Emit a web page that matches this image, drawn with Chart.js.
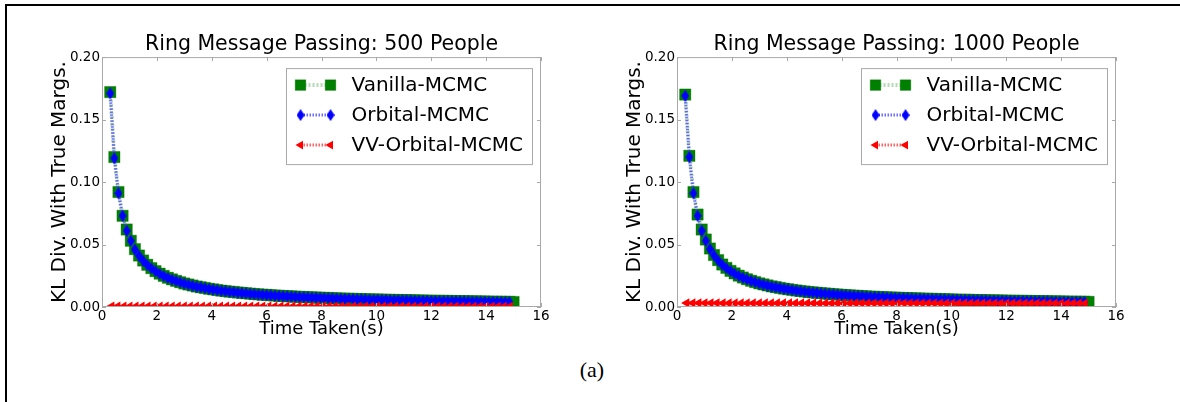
<!DOCTYPE html>
<html>
<head>
<meta charset="utf-8">
<script src="https://cdn.jsdelivr.net/npm/chart.js@4.4.1/dist/chart.umd.min.js"></script>
<style>
  html, body { margin: 0; padding: 0; background: #fff; }
  #page { position: relative; width: 1180px; height: 402px; overflow: hidden; }
  #frame { position: absolute; left: 5px; top: 4px; width: 1180px; height: 420px;
           border-top: 2px solid #000; border-left: 2px solid #000; }
  canvas { position: absolute; top: 20px; }
  #left { left: 20px; }
  #right { left: 595px; }
  #caption { position: absolute; left: 0; width: 1184px; top: 357px; text-align: center;
             font-family: "Liberation Serif", serif; font-size: 22px; color: #000; }
</style>
</head>
<body>
<div id="page">
  <div id="frame"></div>
  <canvas id="left" width="550" height="330"></canvas>
  <canvas id="right" width="550" height="330"></canvas>
  <div id="caption">(a)</div>
</div>
<script>
// time axis (seconds) for Vanilla / Orbital runs
const timeSteps = [0.30, 0.45, 0.60, 0.75, 0.90, 1.05, 1.20, 1.35, 1.50, 1.65, 1.80, 1.95,
  2.10, 2.25, 2.40, 2.55, 2.70, 2.85, 3.00, 3.15, 3.30, 3.45, 3.60, 3.75, 3.90,
  4.05, 4.20, 4.35, 4.50, 4.65, 4.80, 4.95, 5.10, 5.25, 5.40, 5.55, 5.70, 5.85,
  6.00, 6.15, 6.30, 6.45, 6.60, 6.75, 6.90, 7.05, 7.20, 7.35, 7.50, 7.65, 7.80, 7.95,
  8.10, 8.25, 8.40, 8.55, 8.70, 8.85, 9.00, 9.15, 9.30, 9.45, 9.60, 9.75, 9.90,
  10.05, 10.20, 10.35, 10.50, 10.65, 10.80, 10.95, 11.10, 11.25, 11.40, 11.55, 11.70, 11.85,
  12.00, 12.15, 12.30, 12.45, 12.60, 12.75, 12.90, 13.05, 13.20, 13.35, 13.50, 13.65, 13.80, 13.95,
  14.10, 14.25, 14.40, 14.55, 14.70, 14.85, 15.00];

// time axis for VV-Orbital runs
const vvTimes = [0.35, 0.57, 0.79, 1.01, 1.23, 1.45, 1.67, 1.89, 2.11, 2.33, 2.55, 2.77, 2.99,
  3.21, 3.43, 3.65, 3.87, 4.09, 4.31, 4.53, 4.75, 4.97, 5.19, 5.41, 5.63, 5.85,
  6.07, 6.29, 6.51, 6.73, 6.95, 7.17, 7.39, 7.61, 7.83, 8.05, 8.27, 8.49, 8.71, 8.93,
  9.15, 9.37, 9.59, 9.81, 10.03, 10.25, 10.47, 10.69, 10.91, 11.13, 11.35, 11.57, 11.79,
  12.01, 12.23, 12.45, 12.67, 12.89, 13.11, 13.33, 13.55, 13.77, 13.99, 14.21, 14.43, 14.65, 14.87];

// 500 people
const vanilla500 = [0.172, 0.120, 0.092, 0.073, 0.062, 0.053, 0.0463, 0.0412, 0.0372, 0.0338, 0.0311, 0.0287,
  0.0267, 0.0249, 0.0234, 0.0221, 0.0209, 0.0198, 0.0188, 0.0180, 0.0172, 0.0164, 0.0158, 0.0152, 0.0146,
  0.0141, 0.0136, 0.0131, 0.0127, 0.0123, 0.0120, 0.0116, 0.0113, 0.0110, 0.0107, 0.0104, 0.0101, 0.0099,
  0.0097, 0.0094, 0.0092, 0.0090, 0.0088, 0.0086, 0.0085, 0.0083, 0.0081, 0.0080, 0.0078, 0.0077, 0.0076, 0.0074,
  0.0073, 0.0072, 0.0070, 0.0069, 0.0068, 0.0067, 0.0066, 0.0065, 0.0064, 0.0063, 0.0062, 0.0061, 0.0060,
  0.0060, 0.0059, 0.0058, 0.0057, 0.0056, 0.0056, 0.0055, 0.0054, 0.0054, 0.0053, 0.0052, 0.0052, 0.0051,
  0.0050, 0.0050, 0.0049, 0.0049, 0.0048, 0.0048, 0.0047, 0.0047, 0.0046, 0.0046, 0.0045, 0.0045, 0.0044, 0.0044,
  0.0043, 0.0043, 0.0042, 0.0042, 0.0041, 0.0041, 0.0040];
const orbital500 = [0.171, 0.119, 0.091, 0.073, 0.061, 0.053, 0.0460, 0.0410, 0.0370, 0.0336, 0.0309, 0.0285,
  0.0265, 0.0248, 0.0233, 0.0220, 0.0208, 0.0197, 0.0187, 0.0179, 0.0171, 0.0163, 0.0157, 0.0151, 0.0145,
  0.0140, 0.0135, 0.0130, 0.0126, 0.0122, 0.0119, 0.0115, 0.0112, 0.0109, 0.0106, 0.0103, 0.0100, 0.0098,
  0.0096, 0.0093, 0.0091, 0.0089, 0.0087, 0.0085, 0.0084, 0.0082, 0.0080, 0.0079, 0.0077, 0.0076, 0.0075, 0.0073,
  0.0072, 0.0071, 0.0069, 0.0068, 0.0067, 0.0066, 0.0065, 0.0064, 0.0063, 0.0062, 0.0061, 0.0060, 0.0059,
  0.0059, 0.0058, 0.0057, 0.0056, 0.0055, 0.0055, 0.0054, 0.0053, 0.0053, 0.0052, 0.0051, 0.0051, 0.0050,
  0.0049, 0.0049, 0.0048, 0.0048, 0.0047, 0.0047, 0.0046, 0.0046, 0.0045, 0.0045, 0.0044, 0.0044, 0.0043, 0.0043,
  0.0042, 0.0042, 0.0041, 0.0041, 0.0040, 0.0040];
const vvOrbital500 = [0.0006, 0.0006, 0.0005, 0.0005, 0.0005, 0.0005, 0.0005, 0.0005, 0.0005, 0.0005, 0.0005, 0.0005,
  0.0005, 0.0005, 0.0005, 0.0005, 0.0005, 0.0005, 0.0005, 0.0005, 0.0005, 0.0005, 0.0005, 0.0005, 0.0005, 0.0005,
  0.0005, 0.0005, 0.0005, 0.0005, 0.0005, 0.0005, 0.0005, 0.0005, 0.0005, 0.0005, 0.0004, 0.0004, 0.0004, 0.0004,
  0.0004, 0.0004, 0.0004, 0.0004, 0.0004, 0.0004, 0.0004, 0.0004, 0.0004, 0.0004, 0.0004, 0.0004, 0.0004,
  0.0004, 0.0004, 0.0004, 0.0004, 0.0004, 0.0004, 0.0004, 0.0004, 0.0004, 0.0004, 0.0004, 0.0004, 0.0004, 0.0004];

// 1000 people
const vanilla1000 = [0.170, 0.121, 0.092, 0.074, 0.062, 0.054, 0.0468, 0.0416, 0.0375, 0.0340, 0.0313, 0.0289,
  0.0269, 0.0251, 0.0236, 0.0222, 0.0210, 0.0199, 0.0189, 0.0181, 0.0173, 0.0165, 0.0159, 0.0153, 0.0147,
  0.0142, 0.0137, 0.0132, 0.0128, 0.0124, 0.0120, 0.0117, 0.0114, 0.0111, 0.0108, 0.0105, 0.0102, 0.0100,
  0.0097, 0.0095, 0.0093, 0.0091, 0.0089, 0.0087, 0.0085, 0.0083, 0.0082, 0.0080, 0.0079, 0.0077, 0.0076, 0.0075,
  0.0073, 0.0072, 0.0071, 0.0070, 0.0069, 0.0068, 0.0067, 0.0066, 0.0065, 0.0064, 0.0063, 0.0062, 0.0061,
  0.0060, 0.0059, 0.0058, 0.0058, 0.0057, 0.0056, 0.0055, 0.0055, 0.0054, 0.0053, 0.0053, 0.0052, 0.0052,
  0.0051, 0.0050, 0.0050, 0.0049, 0.0049, 0.0048, 0.0048, 0.0047, 0.0047, 0.0046, 0.0046, 0.0045, 0.0045, 0.0044,
  0.0044, 0.0043, 0.0043, 0.0043, 0.0042, 0.0042, 0.0041];
const orbital1000 = [0.169, 0.120, 0.091, 0.073, 0.061, 0.053, 0.0464, 0.0413, 0.0372, 0.0338, 0.0311, 0.0287,
  0.0267, 0.0249, 0.0234, 0.0221, 0.0209, 0.0198, 0.0188, 0.0180, 0.0172, 0.0164, 0.0158, 0.0152, 0.0146,
  0.0141, 0.0136, 0.0131, 0.0127, 0.0123, 0.0119, 0.0116, 0.0113, 0.0110, 0.0107, 0.0104, 0.0101, 0.0099,
  0.0096, 0.0094, 0.0092, 0.0090, 0.0088, 0.0086, 0.0084, 0.0082, 0.0081, 0.0079, 0.0078, 0.0076, 0.0075, 0.0074,
  0.0072, 0.0071, 0.0070, 0.0069, 0.0068, 0.0067, 0.0066, 0.0065, 0.0064, 0.0063, 0.0062, 0.0061, 0.0060,
  0.0059, 0.0058, 0.0057, 0.0057, 0.0056, 0.0055, 0.0054, 0.0054, 0.0053, 0.0052, 0.0052, 0.0051, 0.0051,
  0.0050, 0.0049, 0.0049, 0.0048, 0.0048, 0.0047, 0.0047, 0.0046, 0.0046, 0.0045, 0.0045, 0.0044, 0.0044, 0.0043,
  0.0043, 0.0042, 0.0042, 0.0042, 0.0041, 0.0041];
const vvOrbital1000 = [0.0032, 0.0032, 0.0032, 0.0032, 0.0032, 0.0032, 0.0031, 0.0031, 0.0031, 0.0031, 0.0031, 0.0031,
  0.0031, 0.0031, 0.0031, 0.0031, 0.0031, 0.0031, 0.0031, 0.0031, 0.0031, 0.0031, 0.0030, 0.0030, 0.0030, 0.0030,
  0.0030, 0.0030, 0.0030, 0.0030, 0.0030, 0.0030, 0.0030, 0.0030, 0.0030, 0.0030, 0.0030, 0.0030, 0.0030, 0.0030,
  0.0030, 0.0030, 0.0029, 0.0029, 0.0029, 0.0029, 0.0029, 0.0029, 0.0029, 0.0029, 0.0029, 0.0029, 0.0029,
  0.0029, 0.0029, 0.0029, 0.0029, 0.0029, 0.0029, 0.0029, 0.0029, 0.0029, 0.0029, 0.0029, 0.0029, 0.0029, 0.0029];

const yTicks = [0, 0.05, 0.10, 0.15, 0.20];
const xTicks = [0, 2, 4, 6, 8, 10, 12, 14, 16];

const pts = (xs, ys) => ys.map((v, i) => ({ x: xs[i], y: v }));

// thin diamond marker, like matplotlib 'd'
function thinDiamond(w, h, color) {
  const c = document.createElement("canvas");
  c.width = w; c.height = h;
  const g = c.getContext("2d");
  g.fillStyle = color;
  g.beginPath();
  g.moveTo(w / 2, 0); g.lineTo(w, h / 2); g.lineTo(w / 2, h); g.lineTo(0, h / 2);
  g.closePath(); g.fill();
  return c;
}
const diamond = thinDiamond(8, 12, "#0000ff");

// gray box round the plot with small inward ticks on all four sides
const frameTicks = {
  id: "frameTicks",
  afterDatasetsDraw(chart) {
    const { ctx, chartArea: a, scales: { x, y } } = chart;
    ctx.save();
    ctx.strokeStyle = "#a9a9a9";
    ctx.lineWidth = 1;
    ctx.strokeRect(a.left + 0.5, a.top + 0.5, a.width - 1, a.height - 1);
    ctx.beginPath();
    xTicks.forEach(v => {
      const p = Math.round(x.getPixelForValue(v)) + 0.5;
      ctx.moveTo(p, a.bottom); ctx.lineTo(p, a.bottom - 4);
      ctx.moveTo(p, a.top); ctx.lineTo(p, a.top + 4);
    });
    yTicks.forEach(v => {
      const p = Math.round(y.getPixelForValue(v)) + 0.5;
      ctx.moveTo(a.left, p); ctx.lineTo(a.left + 4, p);
      ctx.moveTo(a.right, p); ctx.lineTo(a.right - 4, p);
    });
    ctx.stroke();
    ctx.restore();
  }
};

// boxed legend inside the top right of the plot
const boxLegend = {
  id: "boxLegend",
  afterDraw(chart) {
    const { ctx, chartArea: a } = chart;
    const sets = chart.data.datasets;
    ctx.save();
    ctx.font = "20px 'DejaVu Sans'";
    const tw = Math.max(...sets.map(d => ctx.measureText(d.label).width));
    const w = 66 + tw + 9, h = 96;
    const bx = a.right - 9 - w, by = a.top + 11;
    ctx.fillStyle = "#fff";
    ctx.fillRect(bx, by, w, h);
    ctx.strokeStyle = "#a9a9a9";
    ctx.lineWidth = 1;
    ctx.strokeRect(Math.round(bx) + 0.5, by + 0.5, Math.round(w), h);
    sets.forEach((d, i) => {
      const ry = by + 17 + i * 30;
      const x0 = bx + 15, x1 = bx + 45;
      ctx.save();
      ctx.strokeStyle = d.borderColor;
      ctx.lineWidth = d.borderWidth;
      ctx.setLineDash(d.borderDash);
      ctx.beginPath(); ctx.moveTo(x0, ry); ctx.lineTo(x1, ry); ctx.stroke();
      ctx.restore();
      ctx.fillStyle = d.pointBackgroundColor;
      ctx.strokeStyle = d.pointBorderColor;
      [x0, x1].forEach(px => Chart.helpers.drawPoint(ctx, {
        pointStyle: d.pointStyle, radius: d.legendRadius, rotation: d.pointRotation || 0,
        borderWidth: d.pointBorderWidth
      }, px, ry));
      ctx.fillStyle = "#000";
      ctx.textBaseline = "middle";
      ctx.fillText(d.label, bx + 66, ry + 1);
    });
    ctx.restore();
  }
};

function makeChart(id, title, van, orb, vv) {
  return new Chart(document.getElementById(id), {
    type: "line",
    data: {
      datasets: [
        {
          label: "Vanilla-MCMC",
          data: pts(timeSteps, van),
          order: 2,
          borderColor: "rgba(120,190,120,0.55)",
          borderWidth: 4,
          borderDash: [2, 2],
          pointStyle: "rect",
          pointRadius: 8,
          legendRadius: 7.5,
          pointBackgroundColor: "#008000",
          pointBorderColor: "rgba(0,110,0,0.35)",
          pointBorderWidth: 1,
          clip: 0
        },
        {
          label: "Orbital-MCMC",
          data: pts(timeSteps, orb),
          order: 1,
          borderColor: "rgba(60,60,255,0.75)",
          borderWidth: 3,
          borderDash: [1.5, 1.5],
          pointStyle: diamond,
          pointRadius: 6,
          legendRadius: 6,
          pointBackgroundColor: "#0000ff",
          pointBorderColor: "#0000ff",
          pointBorderWidth: 0,
          clip: 0
        },
        {
          label: "VV-Orbital-MCMC",
          data: pts(vvTimes, vv),
          order: 0,
          borderColor: "rgba(255,60,60,0.8)",
          borderWidth: 3,
          borderDash: [1.5, 1.5],
          pointStyle: "triangle",
          pointRotation: 270,
          pointRadius: 5.5,
          legendRadius: 5,
          pointBackgroundColor: "#ff0000",
          pointBorderColor: "#ff0000",
          pointBorderWidth: 0,
          clip: 0
        }
      ]
    },
    options: {
      responsive: false,
      animation: false,
      devicePixelRatio: 1,
      layout: { padding: { left: 28, right: 29, top: 12.5, bottom: 10 } },
      plugins: {
        legend: { display: false },
        tooltip: { enabled: false },
        title: {
          display: true,
          text: title,
          fullSize: false,
          color: "#000",
          font: { family: "'DejaVu Sans'", size: 20.5, weight: "normal" },
          padding: { top: 0, bottom: 0 }
        }
      },
      scales: {
        x: {
          type: "linear",
          min: 0, max: 16,
          afterBuildTicks: s => { s.ticks = xTicks.map(v => ({ value: v })); },
          afterFit: s => { s.height = 33; },
          grid: { display: false, drawTicks: false },
          border: { display: false },
          ticks: { color: "#000", padding: 1, maxRotation: 0, font: { family: "'DejaVu Sans'", size: 13.5 } },
          title: {
            display: true, text: "Time Taken(s)", color: "#000",
            font: { family: "'DejaVu Sans'", size: 18 }, padding: 0
          }
        },
        y: {
          min: 0, max: 0.2,
          afterBuildTicks: s => { s.ticks = yTicks.map(v => ({ value: v })); },
          afterFit: s => { s.width = 54; },
          grid: { display: false, drawTicks: false },
          border: { display: false },
          ticks: {
            color: "#000", padding: 2,
            font: { family: "'DejaVu Sans'", size: 13.5 },
            callback: v => v.toFixed(2)
          },
          title: {
            display: true, text: "KL Div. With True Margs.", color: "#000",
            font: { family: "'DejaVu Sans'", size: 20 }, padding: 0
          }
        }
      }
    },
    plugins: [frameTicks, boxLegend]
  });
}

makeChart("left", "Ring Message Passing: 500 People", vanilla500, orbital500, vvOrbital500);
makeChart("right", "Ring Message Passing: 1000 People", vanilla1000, orbital1000, vvOrbital1000);
</script>
</body>
</html>
